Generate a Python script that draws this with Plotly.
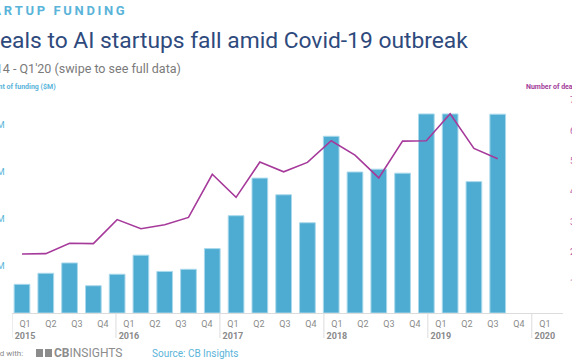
import plotly.graph_objects as go

W, H = 572, 364

years = ["2015", "2016", "2017", "2018", "2019", "2020"]
quarters = ["Q1", "Q2", "Q3", "Q4"] * 5 + ["Q1"]
periods = [f"{q} {years[i // 4]}" for i, q in enumerate(quarters)]
funding = [1220, 1690, 2130, 1160, 1650, 2460, 1770, 1860, 2740, 4140, 5740,
           5030, 3840, 7520, 6000, 6120, 5950, 8470, 8470, 5590, 8460]
deals = [194, 195, 229, 228, 307, 277, 290, 314, 456, 380, 496, 464, 495,
         566, 519, 444, 565, 566, 655, 541, 507]
funding_ticks = [2000, 4000, 6000, 8000]
funding_tick_text = ["$2,000M", "$4,000M", "$6,000M", "$8,000M"]
deal_ticks = [100, 200, 300, 400, 500, 600, 700]

tick_text = [f"{q}<br><b>{years[i // 4]}</b>" if q == "Q1" else q
             for i, q in enumerate(quarters)]

def px(x):
    return x / W

def py(y):
    return (H - y) / H

BLUE = "#4eabd1"
LIGHT = "#5ab4d9"
PURPLE = "#a63a9b"
FONT = "Roboto"

fig = go.Figure()
fig.add_trace(go.Bar(x=periods, y=funding, xaxis="x", yaxis="y",
                     marker=dict(color=BLUE, line=dict(color="#a9d9ec", width=1)),
                     hoverinfo="skip", showlegend=False))
fig.add_trace(go.Scatter(x=periods, y=deals, xaxis="x", yaxis="y2",
                         mode="lines", line=dict(color=PURPLE, width=1.6),
                         hoverinfo="skip", showlegend=False))
fig.add_trace(go.Scatter(x=periods, y=funding, xaxis="x2", yaxis="y",
                         mode="none", hoverinfo="skip", showlegend=False))

ydom = [py(313), py(100)]
fig.update_layout(
    width=W, height=H,
    margin=dict(l=0, r=0, t=0, b=0, pad=0),
    paper_bgcolor="white", plot_bgcolor="rgba(0,0,0,0)",
    template="none",
    font=dict(family=FONT),
    bargap=0.34,
    xaxis=dict(domain=[px(10.1), px(509.6)], range=[-0.5, 20.5], type="category",
               visible=False, anchor="y", fixedrange=True),
    xaxis2=dict(domain=[px(12), px(563)], range=[-0.5, 20.7], type="category",
                anchor="y", showline=True, linecolor="#dcdcdc", linewidth=1,
                showgrid=False, zeroline=False, ticks="",
                tickmode="array", tickvals=periods, ticktext=tick_text,
                tickfont=dict(size=9, color="#8a8a8a", family=FONT),
                ticklabelstandoff=2,
                automargin=False, fixedrange=True),
    yaxis=dict(domain=ydom, range=[0, 213 / 47 * 2000], anchor="free",
               position=px(4.5), showgrid=False, zeroline=False, showline=False,
               ticks="", tickmode="array", tickvals=funding_ticks,
               ticktext=funding_tick_text,
               tickfont=dict(size=9, color=LIGHT, family=FONT),
               automargin=False, fixedrange=True),
    yaxis2=dict(domain=ydom, range=[0, 700], anchor="free", overlaying="y",
                side="right", position=px(569), showgrid=False, zeroline=False,
                showline=False, ticks="", tickmode="array", tickvals=deal_ticks,
                tickfont=dict(size=9, color="#b45aa9", family=FONT),
                automargin=False, fixedrange=True),
)

# year dividers below the axis
for b in [-0.5, 3.5, 7.5, 11.5, 15.5, 19.5]:
    fig.add_shape(type="line", xref="x2", yref="paper", x0=b, x1=b,
                  y0=py(313), y1=py(338), line=dict(color="#dcdcdc", width=1))

def note(text, x, y, size, color, anchor="left", **kw):
    fig.add_annotation(text=text, xref="paper", yref="paper", x=px(x), y=py(y),
                       xanchor=anchor, yanchor="middle", showarrow=False,
                       font=dict(size=size, color=color, family=FONT), **kw)

title_top = "\u2009".join("STARTUP FUNDING")
note(f"<b>{title_top}</b>", 127, 10, 13, LIGHT, anchor="right")
note("Deals to AI startups fall amid Covid-19 outbreak", 470, 40, 22.8, "#2e4a7d",
     anchor="right")
note("Q1'14 - Q1'20 (swipe to see full data)", 183, 68, 12.5, "#7a7a7a",
     anchor="right")
note("<b>Amount of funding ($M)</b>", 58, 87, 7, LIGHT, anchor="right")
note("<b>Number of deals</b>", 524, 87, 7, "#a23d99", anchor="left")

# footer
note("Powered with:", 25, 353, 8, "#8a8a8a", anchor="right")
for (x0, x1) in [(36, 43), (45, 52)]:
    fig.add_shape(type="rect", xref="paper", yref="paper", x0=px(x0), x1=px(x1),
                  y0=py(357), y1=py(349), line=dict(width=0), fillcolor="#8c8c8c")
note("<b>CB</b>INSIGHTS", 52, 353, 12, "#8c8c8c", anchor="left")
note("Source: CB Insights", 150, 353, 10, LIGHT, anchor="left")

fig.write_html("out.html", config={"displayModeBar": False},
               post_script="document.body.style.margin='0';"
                           "document.body.style.overflow='hidden';")
